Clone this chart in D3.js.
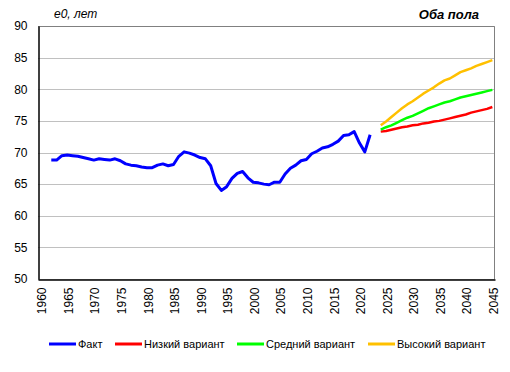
<!DOCTYPE html>
<html>
<head>
<meta charset="utf-8">
<script src="https://cdn.jsdelivr.net/npm/d3@7"></script>
<style>
    body { margin: 0; background: #fff; }
    text { font-family: "Liberation Sans", Arial, sans-serif; fill: #000; }
</style>
</head>
<body>
<div id="vis"></div>
<script>
// life expectancy at birth, both sexes
var factYears = d3.range(1962, 2023);
var factValues = [68.8, 68.8, 69.5, 69.6, 69.5, 69.4, 69.2, 69.0, 68.8, 69.0,
    68.9, 68.8, 69.0, 68.7, 68.2, 68.0, 67.9, 67.7, 67.6, 67.6,
    68.0, 68.2, 67.9, 68.1, 69.4, 70.1, 69.9, 69.6, 69.2, 69.0,
    67.9, 65.1, 64.0, 64.6, 65.9, 66.7, 67.0, 66.0, 65.3, 65.2,
    65.0, 64.9, 65.3, 65.3, 66.6, 67.5, 68.0, 68.7, 68.9, 69.8,
    70.2, 70.7, 70.9, 71.3, 71.8, 72.7, 72.8, 73.3, 71.5, 70.1,
    72.8];

var projYears = d3.range(2024, 2046);
var lowValues = [73.3, 73.4, 73.6, 73.8, 74.0, 74.1, 74.3, 74.4, 74.6, 74.7, 74.9,
    75.0, 75.2, 75.4, 75.6, 75.8, 76.0, 76.3, 76.5, 76.7, 76.9, 77.2];
var midValues = [73.6, 74.0, 74.3, 74.7, 75.1, 75.5, 75.8, 76.2, 76.6, 77.0, 77.3,
    77.6, 77.9, 78.1, 78.4, 78.7, 78.9, 79.1, 79.3, 79.5, 79.7, 79.9];
var highValues = [74.3, 74.9, 75.6, 76.3, 77.0, 77.6, 78.1, 78.7, 79.3, 79.8, 80.3,
    80.9, 81.4, 81.7, 82.2, 82.7, 83.0, 83.3, 83.7, 84.0, 84.3, 84.6];

var yTicks = [50, 55, 60, 65, 70, 75, 80, 85, 90];
var xTicks = d3.range(1960, 2046, 5);

var series = [
    { name: 'Факт', color: '#0000ff', years: factYears, values: factValues },
    { name: 'Низкий вариант', color: '#ff0000', years: projYears, values: lowValues },
    { name: 'Средний вариант', color: '#00ff00', years: projYears, values: midValues },
    { name: 'Высокий вариант', color: '#ffc000', years: projYears, values: highValues }
];

var width = 510;
var height = 372;
var margin = { top: 26, right: 15, bottom: 93, left: 38 };

var svg = d3.select('#vis')
    .append('svg')
    .attr('width', width)
    .attr('height', height);

var x = d3.scaleLinear()
    .domain([1959.5, 2045.5])
    .range([margin.left, width - margin.right]);

var y = d3.scaleLinear()
    .domain([50, 90])
    .range([height - margin.bottom, margin.top]);

// grid
svg.append('g')
    .selectAll('line')
    .data(yTicks)
    .enter().append('line')
    .attr('x1', margin.left)
    .attr('x2', width - margin.right)
    .attr('y1', (d) => Math.round(y(d)) + 0.5)
    .attr('y2', (d) => Math.round(y(d)) + 0.5)
    .attr('stroke', '#c0c0c0');

// plot frame: grey top/right
svg.append('path')
    .attr('d', 'M' + margin.left + ',' + (margin.top + 0.5) + 'H' + (width - margin.right - 0.5) +
        'V' + (height - margin.bottom))
    .attr('fill', 'none')
    .attr('stroke', '#808080');

// y axis
var yAxis = svg.append('g')
    .attr('transform', 'translate(' + (margin.left + 0.5) + ',0)')
    .call(d3.axisLeft(y).tickValues(yTicks).tickSize(0).tickPadding(11));
yAxis.select('.domain').attr('stroke', '#000').attr('stroke-width', 1.5);
yAxis.selectAll('text').style('font-size', '12px').attr('font-family', null);

// x axis
var xAxis = svg.append('g')
    .attr('transform', 'translate(0,' + (height - margin.bottom + 0.5) + ')')
    .call(d3.axisBottom(x).tickValues(xTicks).tickFormat(d3.format('d')).tickSize(0));
xAxis.select('.domain').attr('stroke', '#000').attr('stroke-width', 1.5);
xAxis.selectAll('text')
    .style('font-size', '12px')
    .attr('font-family', null)
    .attr('text-anchor', 'end')
    .attr('dy', '0.35em')
    .attr('y', 0)
    .attr('transform', 'translate(1,8) rotate(-90)');

// lines
var line = d3.line()
    .x((d) => x(d[0]))
    .y((d) => y(d[1]));

svg.append('g')
    .selectAll('path')
    .data(series)
    .enter().append('path')
    .attr('d', (s) => line(d3.zip(s.years, s.values)))
    .attr('fill', 'none')
    .attr('stroke', (s) => s.color)
    .attr('stroke-width', (s, i) => i == 0 ? 3 : 2.5)
    .attr('stroke-linejoin', 'round');

// titles
svg.append('text')
    .attr('x', 54)
    .attr('y', 18)
    .style('font-size', '12px')
    .style('font-style', 'italic')
    .text('e0, лет');

svg.append('text')
    .attr('x', 479)
    .attr('y', 19)
    .attr('text-anchor', 'end')
    .style('font-size', '13px')
    .style('font-style', 'italic')
    .style('font-weight', 'bold')
    .text('Оба пола');

// legend
var legendX = [49, 115, 237, 368];
var legend = svg.append('g')
    .selectAll('g')
    .data(series)
    .enter().append('g')
    .attr('transform', (s, i) => 'translate(' + legendX[i] + ',344)');

legend.append('line')
    .attr('x1', 0)
    .attr('x2', 27)
    .attr('stroke', (s) => s.color)
    .attr('stroke-width', 3);

legend.append('text')
    .attr('x', 29)
    .attr('dy', '0.35em')
    .style('font-size', '11px')
    .text((s) => s.name);
</script>
</body>
</html>
